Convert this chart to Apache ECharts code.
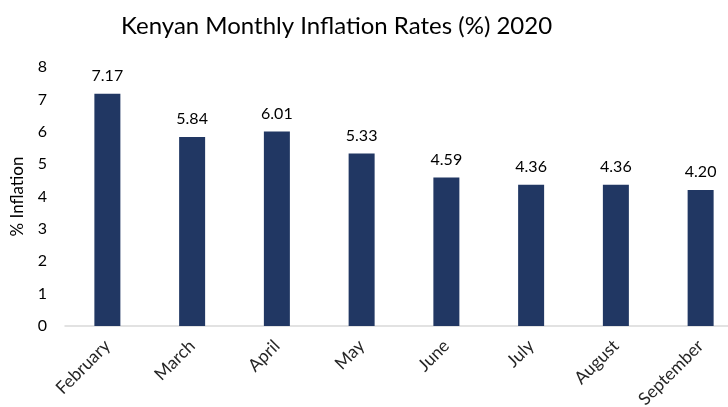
<!DOCTYPE html>
<html>
<head>
<meta charset="utf-8">
<script src="https://cdn.jsdelivr.net/npm/echarts@6/dist/echarts.min.js"></script>
<style>
  html, body { margin: 0; padding: 0; background: #fff; }
  #chart { width: 728px; height: 407px; }
</style>
</head>
<body>
<div id="chart"></div>
<script>
// values
const months = ['February', 'March', 'April', 'May', 'June', 'July', 'August', 'September'];
const inflation = [7.17, 5.84, 6.01, 5.33, 4.59, 4.36, 4.36, 4.20];
const yTicks = [0, 1, 2, 3, 4, 5, 6, 7, 8];

const font = 'Lato, "Noto Sans", sans-serif';

const chart = echarts.init(document.getElementById('chart'), null, { renderer: 'canvas' });
chart.setOption({
  animation: false,
  title: {
    text: 'Kenyan Monthly Inflation Rates (%) 2020',
    left: 116,
    top: 9,
    textStyle: { fontFamily: font, fontSize: 24, fontWeight: 'normal', color: '#000' }
  },
  grid: { left: 65, right: -15, top: 67, bottom: 81, containLabel: false, outerBoundsMode: 'none' },
  xAxis: {
    type: 'category',
    data: months,
    axisLine: { lineStyle: { color: '#d9d9d9', width: 1.5 } },
    axisTick: { show: false },
    axisLabel: {
      rotate: 45,
      interval: 0,
      margin: 17,
      fontFamily: font,
      fontSize: 17.5,
      color: '#262626'
    }
  },
  yAxis: {
    type: 'value',
    min: yTicks[0],
    max: yTicks[yTicks.length - 1],
    interval: 1,
    name: '% Inflation',
    nameLocation: 'middle',
    nameGap: 39,
    nameTextStyle: { fontFamily: font, fontSize: 17, color: '#000' },
    axisLine: { show: false },
    axisTick: { show: false },
    splitLine: { show: false },
    axisLabel: { margin: 18, fontFamily: font, fontSize: 16, color: '#000' }
  },
  series: [{
    type: 'bar',
    data: inflation,
    barWidth: 26,
    itemStyle: { color: '#213763' },
    label: {
      show: true,
      position: 'top',
      distance: 10,
      formatter: p => p.value.toFixed(2),
      fontFamily: font,
      fontSize: 16,
      color: '#000'
    }
  }]
});
</script>
</body>
</html>
